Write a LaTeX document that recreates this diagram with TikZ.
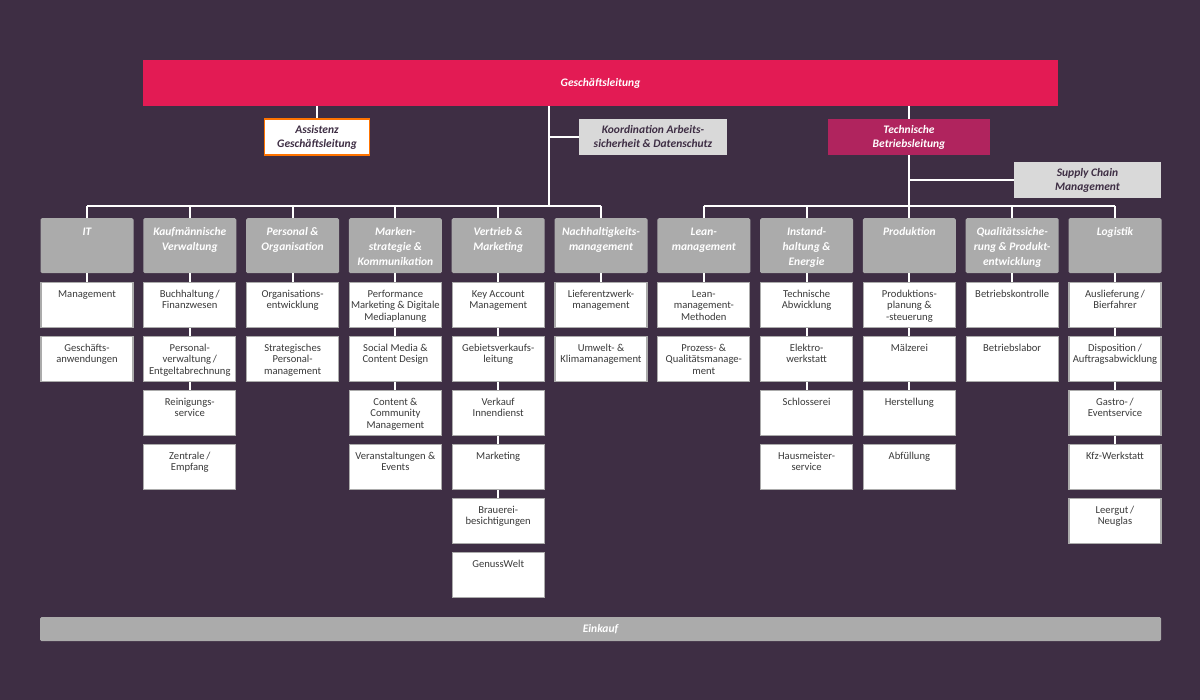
\documentclass[tikz,border=0pt]{standalone}
\usepackage{fontspec}
\setmainfont{Carlito}
\usetikzlibrary{positioning}
\definecolor{bgpurple}{HTML}{3E2E44}
\definecolor{glred}{HTML}{E31B54}
\definecolor{tbred}{HTML}{B0245E}
\definecolor{headgray}{HTML}{ABABAB}
\definecolor{lightgray}{HTML}{D9D9D9}
\definecolor{subtext}{HTML}{3A3A3A}
\newcommand{\topbox}[4]{\begin{minipage}[t][#1][t]{#2}\centering\rule{0pt}{#3}#4\end{minipage}}
\tikzset{
  head/.style={fill=headgray,rounded corners=1.5pt,anchor=north,inner xsep=1.5pt,inner ysep=3pt,text=white,
    font=\fontsize{11.5}{15}\selectfont\bfseries\itshape},
  sub/.style={fill=white,draw=headgray,line width=1.2pt,anchor=north,inner xsep=0.5pt,inner ysep=3pt,text=subtext,
    font=\fontsize{10.6}{11.3}\selectfont},
  staff/.style={minimum height=36pt,align=center,inner sep=2pt,
    font=\fontsize{11.5}{14}\selectfont\bfseries\itshape},
  link/.style={draw=white,line width=2pt}
}
\begin{document}
\begin{tikzpicture}[x=1pt,y=-1pt]
\fill[bgpurple] (0,0) rectangle (1200,700);
\useasboundingbox (0,0) rectangle (1200,700);

% top level
\node[fill=glred,minimum width=915pt,minimum height=46pt,text=white,
  font=\fontsize{11.5}{14}\selectfont\bfseries\itshape] (gl) at (600.5,83) {Geschäftsleitung};
\node[staff,fill=white,draw=orange!90!red,line width=1.2pt,minimum width=105pt,text=bgpurple] (as) at (317,137) {Assistenz\\Geschäftsleitung};
\node[staff,fill=lightgray,minimum width=148pt,text=bgpurple] (ko) at (653,137) {Koordination Arbeits-\\sicherheit \& Datenschutz};
\node[staff,fill=tbred,minimum width=162pt,text=white] (tb) at (909,137) {Technische\\Betriebsleitung};
\node[staff,fill=lightgray,minimum width=147pt,text=bgpurple] (sc) at (1087.5,180) {Supply Chain\\Management};
\node[fill=headgray,rounded corners=1.5pt,minimum width=1121pt,minimum height=24pt,text=white,
  font=\fontsize{11.5}{14}\selectfont\bfseries\itshape] (ek) at (600.5,629) {Einkauf};

% staff links and buses
\coordinate (ga) at (317,106);
\coordinate (gm) at (549,106);
\coordinate (gk) at (549,137);
\coordinate (gb) at (549,206);
\coordinate (tm) at (909,106);
\coordinate (ts) at (909,180);
\coordinate (tbus) at (909,206);
\draw[link] (ga) -- (as.north);
\draw[link] (gm) -- (gb);
\draw[link] (gk) -- (ko.west);
\draw[link] (tm) -- (tb.north);
\draw[link] (tb.south) -- (tbus);
\draw[link] (ts) -- (sc.west);

% columns
\foreach \i/\title/\items in {
  1/{IT}/{{Management},{Geschäfts-\\anwendungen}},
  2/{Kaufmännische\\Verwaltung}/{{Buchhaltung\,/\\Finanzwesen},{Personal-\\verwaltung\,/\\Entgeltabrechnung},{Reinigungs-\\service},{Zentrale\,/\\Empfang}},
  3/{Personal \&\\Organisation}/{{Organisations-\\entwicklung},{Strategisches\\Personal-\\management}},
  4/{Marken-\\strategie \&\\Kommunikation}/{{Performance\\Marketing \& Digitale\\Mediaplanung},{Social Media \&\\Content Design},{Content \&\\Community\\Management},{Veranstaltungen \&\\Events}},
  5/{Vertrieb \&\\Marketing}/{{Key Account\\Management},{Gebietsverkaufs-\\leitung},{Verkauf\\Innendienst},{Marketing},{Brauerei-\\besichtigungen},{GenussWelt}},
  6/{Nachhaltigkeits-\\management}/{{Lieferentzwerk-\\management},{Umwelt- \&\\Klimamanagement}},
  7/{Lean-\\management}/{{Lean-\\management-\\Methoden},{Prozess- \&\\Qualitätsmanage-\\ment}},
  8/{Instand-\\haltung \&\\Energie}/{{Technische\\Abwicklung},{Elektro-\\werkstatt},{Schlosserei},{Hausmeister-\\service}},
  9/{Produktion}/{{Produktions-\\planung \&\\-steuerung},{Mälzerei},{Herstellung},{Abfüllung}},
  10/{Qualitätssiche-\\rung \& Produkt-\\entwicklung}/{{Betriebskontrolle},{Betriebslabor}},
  11/{Logistik}/{{Auslieferung\,/\\Bierfahrer},{Disposition\,/\\Auftragsabwicklung},{Gastro-\,/\\Eventservice},{Kfz-Werkstatt},{Leergut\,/\\Neuglas}}}
{
  \pgfmathsetmacro{\cx}{87+102.8*(\i-1)}
  \coordinate (b\i) at (\cx,206);
  \draw[link] (b\i) -- (\cx,218);
  \node[head] (h\i) at (\cx,218) {\topbox{49pt}{90pt}{14pt}{\title}};
  \foreach \txt [count=\j] in \items {
    \pgfmathsetmacro{\cy}{282+54*(\j-1)}
    \node[sub] (s\i-\j) at (\cx,\cy) {\topbox{38.6pt}{91pt}{12pt}{\txt}};
  }
  \draw[link] (h\i.south) -- (s\i-1.north);
  \foreach \txt [count=\j from 0] in \items {
    \ifnum\j>1
      \pgfmathtruncatemacro{\k}{\j-1}
      \draw[link] (s\i-\k.south) -- (s\i-\j.north);
    \fi
  }
}
\draw[link] (b1) -- (b6);
\draw[link] (b7) -- (b11);
\end{tikzpicture}
\end{document}
